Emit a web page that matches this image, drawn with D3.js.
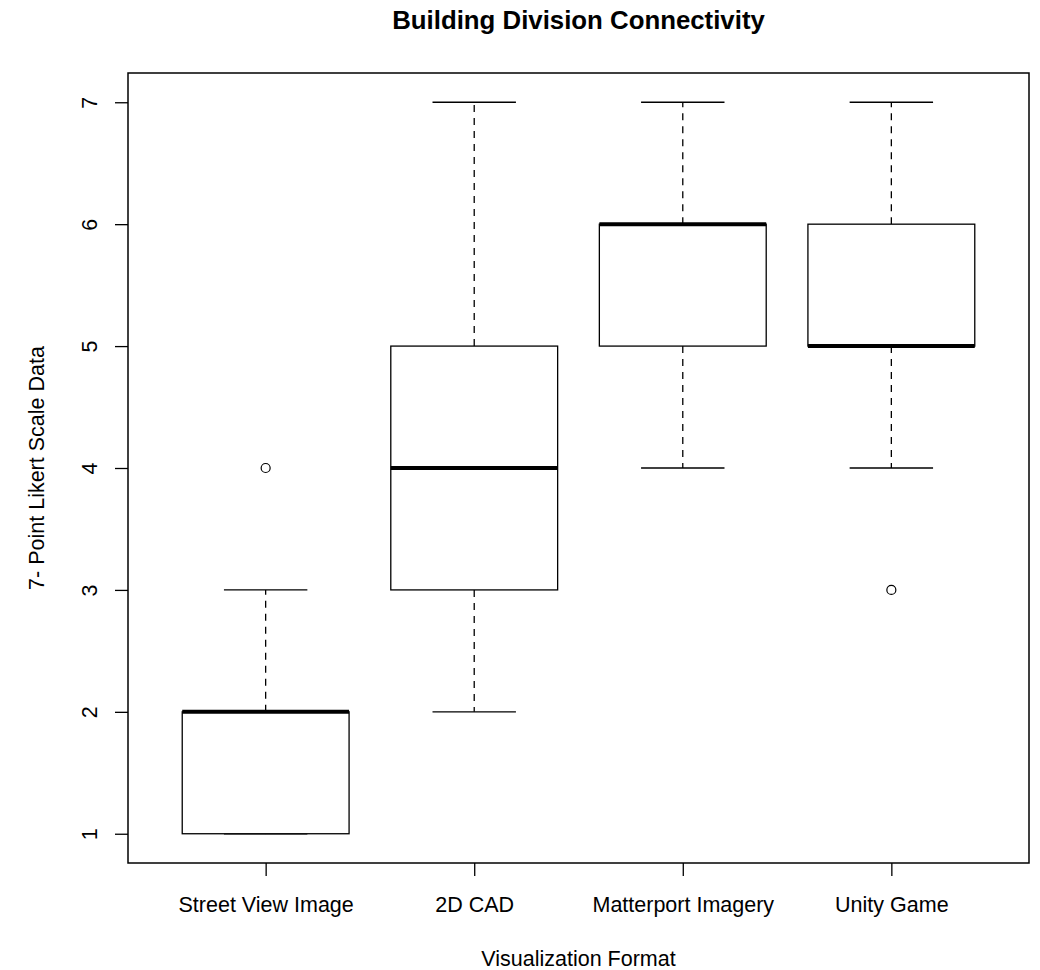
<!DOCTYPE html>
<html>
<head>
<meta charset="utf-8">
<script src="https://cdn.jsdelivr.net/npm/d3@7"></script>
<style>
    body { margin: 0; background: #fff; }
    text { font-family: "Liberation Sans", Arial, sans-serif; fill: #000; }
</style>
</head>
<body>
<div id="chart"></div>
<script>
// data
const categories = ['Street View Image', '2D CAD', 'Matterport Imagery', 'Unity Game'];
const lowerWhisker = [1, 2, 4, 4];
const q1 = [1, 3, 5, 5];
const median = [2, 4, 6, 5];
const q3 = [2, 5, 6, 6];
const upperWhisker = [3, 7, 7, 7];
const outliers = [[4], [], [], [3]];
const yTicks = [1, 2, 3, 4, 5, 6, 7];

const W = 1040, H = 970;
const plot = {left: 128, right: 1029, top: 73, bottom: 863};

const data = categories.map((c, i) => ({
    name: c,
    i: i + 1,
    lo: lowerWhisker[i],
    q1: q1[i],
    med: median[i],
    q3: q3[i],
    hi: upperWhisker[i],
    out: outliers[i]
}));

// R style extents: 4% padding on each side
const x = d3.scaleLinear()
    .domain([0.5 - 0.16, categories.length + 0.5 + 0.16])
    .range([plot.left, plot.right]);

const y = d3.scaleLinear()
    .domain([1 - 0.24, 7 + 0.24])
    .range([plot.bottom, plot.top]);

const boxW = x(0.8) - x(0);
const capW = boxW / 2;

const svg = d3.select('#chart')
    .append('svg')
    .attr('width', W)
    .attr('height', H);

svg.append('rect')
    .attr('width', W)
    .attr('height', H)
    .attr('fill', '#fff');

// title
svg.append('text')
    .attr('x', (plot.left + plot.right) / 2)
    .attr('y', 29)
    .attr('text-anchor', 'middle')
    .style('font-size', '25.8px')
    .style('font-weight', 'bold')
    .text('Building Division Connectivity');

// y axis
const yAxis = svg.append('g')
    .attr('transform', `translate(${plot.left},0)`)
    .call(d3.axisLeft(y)
        .tickValues(yTicks)
        .tickFormat(d3.format('d'))
        .tickSize(13)
        .tickSizeOuter(0));
yAxis.select('.domain').remove();
yAxis.selectAll('.tick line').attr('stroke', '#000').attr('stroke-width', 1.3);
yAxis.selectAll('.tick text')
    .attr('x', null)
    .attr('dy', null)
    .attr('text-anchor', 'middle')
    .attr('transform', 'translate(-31,0) rotate(-90)')
    .style('font-size', '21.5px')
    .style('font-family', '"Liberation Sans", Arial, sans-serif');

// x axis
const xAxis = svg.append('g')
    .attr('transform', `translate(0,${plot.bottom})`)
    .call(d3.axisBottom(x)
        .tickValues(data.map(d => d.i))
        .tickFormat((d, i) => categories[i])
        .tickSize(13)
        .tickSizeOuter(0));
xAxis.select('.domain').remove();
xAxis.selectAll('.tick line').attr('stroke', '#000').attr('stroke-width', 1.3);
xAxis.selectAll('.tick text')
    .attr('y', 49)
    .attr('dy', null)
    .style('font-size', '21.5px')
    .style('font-family', '"Liberation Sans", Arial, sans-serif');

// axis titles
svg.append('text')
    .attr('transform', `translate(44,${(plot.top + plot.bottom) / 2}) rotate(-90)`)
    .attr('text-anchor', 'middle')
    .style('font-size', '21.5px')
    .text('7- Point Likert Scale Data');

svg.append('text')
    .attr('x', (plot.left + plot.right) / 2)
    .attr('y', 966)
    .attr('text-anchor', 'middle')
    .style('font-size', '21.5px')
    .text('Visualization Format');

// boxes
const g = svg.append('g');

const box = g.selectAll('g.box')
    .data(data)
    .enter()
    .append('g')
    .attr('class', 'box');

// whiskers (dashed)
box.append('line')
    .attr('x1', d => x(d.i)).attr('x2', d => x(d.i))
    .attr('y1', d => y(d.q3)).attr('y2', d => y(d.hi))
    .attr('stroke', '#000').attr('stroke-width', 1.3)
    .attr('stroke-dasharray', '7,6');
box.append('line')
    .attr('x1', d => x(d.i)).attr('x2', d => x(d.i))
    .attr('y1', d => y(d.q1)).attr('y2', d => y(d.lo))
    .attr('stroke', '#000').attr('stroke-width', 1.3)
    .attr('stroke-dasharray', '7,6');

// caps
box.append('line')
    .attr('x1', d => x(d.i) - capW / 2).attr('x2', d => x(d.i) + capW / 2)
    .attr('y1', d => y(d.hi)).attr('y2', d => y(d.hi))
    .attr('stroke', '#000').attr('stroke-width', 1.3);
box.append('line')
    .attr('x1', d => x(d.i) - capW / 2).attr('x2', d => x(d.i) + capW / 2)
    .attr('y1', d => y(d.lo)).attr('y2', d => y(d.lo))
    .attr('stroke', '#000').attr('stroke-width', 1.3);

// box
box.append('rect')
    .attr('x', d => x(d.i) - boxW / 2)
    .attr('width', boxW)
    .attr('y', d => y(d.q3))
    .attr('height', d => y(d.q1) - y(d.q3))
    .attr('fill', '#fff')
    .attr('stroke', '#000')
    .attr('stroke-width', 1.3);

// median
box.append('line')
    .attr('x1', d => x(d.i) - boxW / 2).attr('x2', d => x(d.i) + boxW / 2)
    .attr('y1', d => y(d.med)).attr('y2', d => y(d.med))
    .attr('stroke', '#000').attr('stroke-width', 4);

// outliers
box.each(function(d) {
    d3.select(this)
        .selectAll('circle')
        .data(d.out)
        .enter()
        .append('circle')
        .attr('cx', x(d.i))
        .attr('cy', v => y(v))
        .attr('r', 4.5)
        .attr('fill', 'none')
        .attr('stroke', '#000')
        .attr('stroke-width', 1.2);
});

// plot frame
svg.append('rect')
    .attr('x', plot.left)
    .attr('y', plot.top)
    .attr('width', plot.right - plot.left)
    .attr('height', plot.bottom - plot.top)
    .attr('fill', 'none')
    .attr('stroke', '#000')
    .attr('stroke-width', 1.5);
</script>
</body>
</html>
